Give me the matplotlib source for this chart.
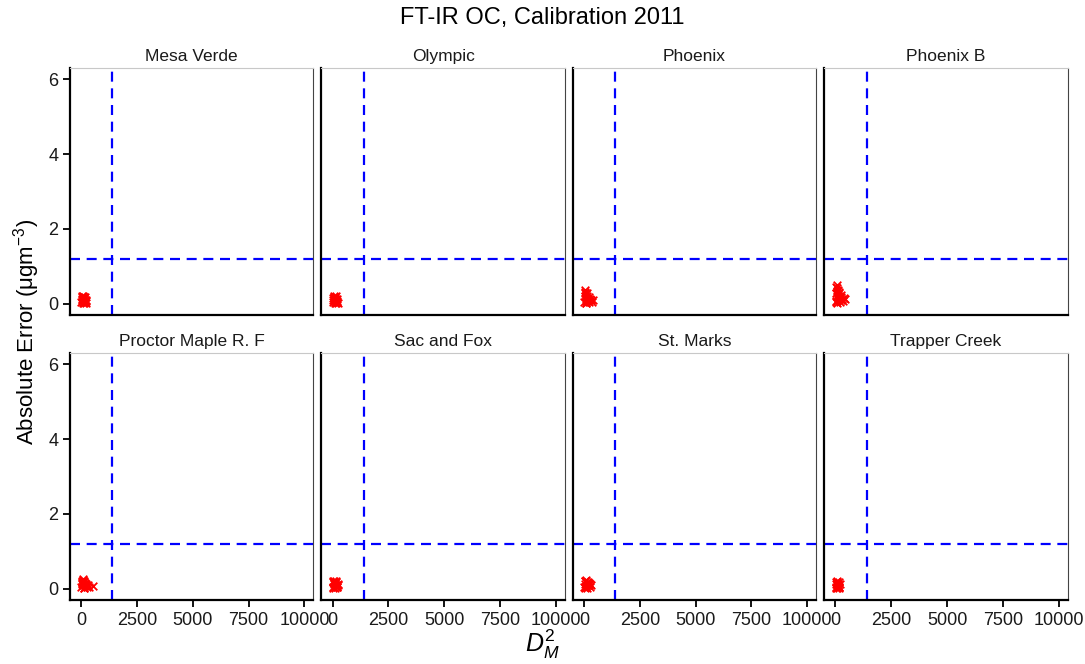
import numpy as np
import matplotlib.pyplot as plt

plt.rcParams['font.family'] = ['Liberation Sans', 'DejaVu Sans']
plt.rcParams['mathtext.fontset'] = 'custom'
plt.rcParams['mathtext.rm'] = 'Liberation Sans'
plt.rcParams['mathtext.it'] = 'Liberation Sans:italic'

sites = ["Mesa Verde", "Olympic", "Phoenix", "Phoenix B",
         "Proctor Maple R. F", "Sac and Fox", "St. Marks", "Trapper Creek"]

# squared Mahalanobis distance and absolute error for each site
d2 = {
    "Mesa Verde": [10, 30, 55, 80, 100, 120, 140, 160, 180, 200, 220, 40, 70, 95, 130, 170, 210, 60, 110, 150],
    "Olympic": [15, 35, 50, 75, 95, 115, 140, 165, 185, 205, 230, 45, 85, 125, 155, 190, 25, 105, 175, 60],
    "Phoenix": [10, 30, 50, 70, 90, 110, 130, 150, 180, 210, 240, 270, 300, 350, 420, 40, 80, 120, 160, 200, 60, 100],
    "Phoenix B": [10, 25, 45, 65, 85, 105, 125, 150, 175, 200, 230, 260, 300, 340, 390, 440, 30, 70, 110, 160, 210, 50, 90, 140, 250],
    "Proctor Maple R. F": [10, 30, 50, 70, 90, 110, 130, 150, 170, 190, 220, 250, 290, 340, 520, 40, 80, 120, 160, 200, 60],
    "Sac and Fox": [10, 30, 55, 80, 100, 125, 150, 175, 200, 230, 260, 40, 70, 110, 140, 190, 220, 90, 160, 20],
    "St. Marks": [10, 30, 50, 75, 95, 120, 145, 170, 195, 220, 250, 280, 310, 40, 85, 130, 180, 230, 60, 105],
    "Trapper Creek": [15, 30, 50, 70, 90, 110, 130, 150, 170, 190, 40, 80, 120, 160, 60, 100, 25, 140],
}
abs_err = {
    "Mesa Verde": [0.05, 0.18, 0.12, 0.02, 0.20, 0.08, 0.15, 0.04, 0.10, 0.07, 0.03, 0.22, 0.06, 0.14, 0.01, 0.17, 0.09, 0.11, 0.19, 0.13],
    "Olympic": [0.04, 0.16, 0.10, 0.19, 0.02, 0.13, 0.07, 0.21, 0.05, 0.12, 0.03, 0.09, 0.15, 0.18, 0.01, 0.08, 0.11, 0.06, 0.14, 0.20],
    "Phoenix": [0.05, 0.38, 0.30, 0.12, 0.25, 0.08, 0.20, 0.15, 0.10, 0.18, 0.06, 0.12, 0.09, 0.05, 0.10, 0.22, 0.03, 0.28, 0.14, 0.07, 0.33, 0.02],
    "Phoenix B": [0.08, 0.45, 0.30, 0.50, 0.20, 0.38, 0.12, 0.28, 0.22, 0.15, 0.18, 0.10, 0.14, 0.08, 0.16, 0.12, 0.05, 0.42, 0.25, 0.33, 0.06, 0.35, 0.02, 0.19, 0.24],
    "Proctor Maple R. F": [0.05, 0.22, 0.15, 0.25, 0.10, 0.18, 0.03, 0.20, 0.12, 0.08, 0.14, 0.06, 0.10, 0.04, 0.07, 0.12, 0.24, 0.01, 0.16, 0.11, 0.19],
    "Sac and Fox": [0.06, 0.18, 0.12, 0.22, 0.03, 0.15, 0.09, 0.20, 0.05, 0.13, 0.10, 0.02, 0.16, 0.08, 0.19, 0.04, 0.11, 0.14, 0.07, 0.21],
    "St. Marks": [0.04, 0.20, 0.12, 0.23, 0.08, 0.16, 0.02, 0.18, 0.10, 0.14, 0.06, 0.12, 0.09, 0.22, 0.05, 0.19, 0.11, 0.15, 0.01, 0.07],
    "Trapper Creek": [0.05, 0.17, 0.11, 0.20, 0.03, 0.14, 0.08, 0.19, 0.06, 0.12, 0.01, 0.15, 0.09, 0.04, 0.18, 0.10, 0.13, 0.02],
}

d2_cutoff = 1400
err_cutoff = 1.2

fig, axes = plt.subplots(2, 4, figsize=(10.85, 6.64), dpi=100, sharex=True, sharey=True)
fig.subplots_adjust(left=0.0645, right=0.984, top=0.8976, bottom=0.0964,
                    wspace=0.033, hspace=0.153)

for ax, site in zip(axes.flat, sites):
    ax.scatter(d2[site], abs_err[site], marker='x', color='red', s=30, linewidths=1.3, zorder=3)
    ax.axvline(d2_cutoff, color='blue', ls=(0, (4.5, 3)), lw=1.6)
    ax.axhline(err_cutoff, color='blue', ls=(0, (4.5, 3)), lw=1.6)
    ax.set_title(site, fontsize=12.5, pad=5, color='#1a1a1a')
    ax.set_xlim(-500, 10400)
    ax.set_ylim(-0.3, 6.3)
    ax.set_xticks([0, 2500, 5000, 7500, 10000])
    ax.set_yticks([0, 2, 4, 6])
    ax.spines['left'].set_color('black')
    ax.spines['bottom'].set_color('black')
    ax.spines['left'].set_linewidth(1.6)
    ax.spines['bottom'].set_linewidth(1.6)
    ax.spines['top'].set_color('#c8c8c8')
    ax.spines['right'].set_color('#444444')
    ax.tick_params(labelsize=13, length=5, width=1.3, colors='black', labelcolor='#1a1a1a')
    ax.tick_params(axis='x', labelbottom=ax in axes[1])
    ax.tick_params(axis='x', length=5 if ax in axes[1] else 0)
    ax.tick_params(axis='y', length=5 if ax in axes[:, 0] else 0)

fig.suptitle("FT-IR OC, Calibration 2011", fontsize=17, y=0.99)
fig.supylabel(r"Absolute Error ($\mathregular{\mu gm^{-3}}$)", fontsize=16, x=0.01, y=0.5)
fig.supxlabel(r"$D_M^2$", fontsize=18, y=0.004)

fig.savefig("out.png", dpi=100)
